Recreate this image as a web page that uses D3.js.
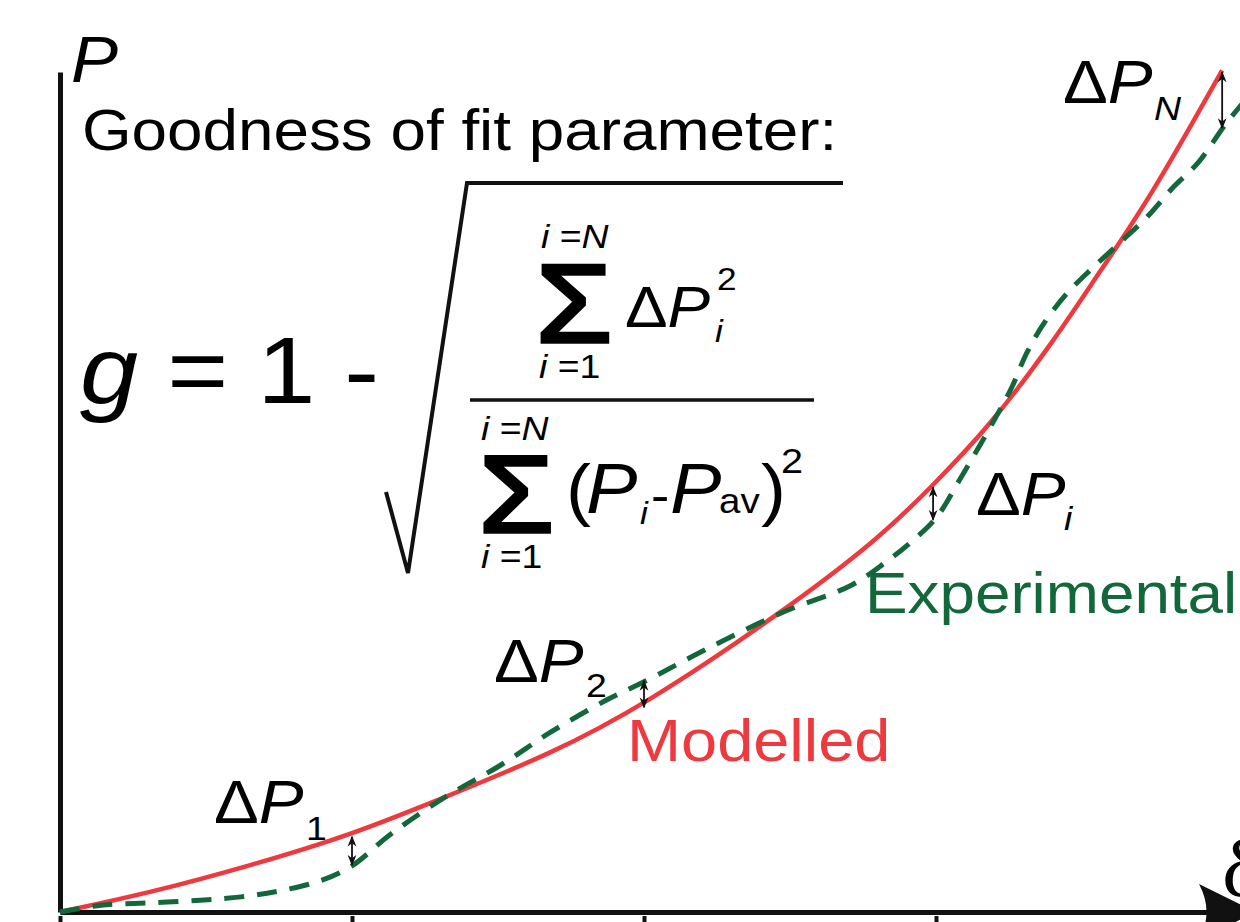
<!DOCTYPE html>
<html>
<head>
<meta charset="utf-8">
<script src="https://cdn.jsdelivr.net/npm/d3@7"></script>
<style>
  body { margin: 0; background: #fff; }
  text { font-family: "Liberation Sans", Arial, sans-serif; fill: #000; }
</style>
</head>
<body>
<div id="chart"></div>
<script>
// x: displacement (delta), y: load P
var deltaTicks = [0, 1, 2, 3];

var modelledDelta = [0, 0.31, 0.65, 1.00, 1.32, 1.68, 2.00, 2.47, 2.80, 2.99, 3.18, 3.39, 3.56, 3.73, 3.98];
var modelledP     = [0, 0.23, 0.55, 0.92, 1.37, 1.88, 2.46, 3.56, 4.43, 5.08, 5.77, 6.73, 7.62, 8.48, 10.02];

var experimentalDelta = [0, 0.14, 0.31, 0.48, 0.62, 0.75, 0.89, 1.00, 1.13, 1.32, 1.51, 1.68, 1.87, 2.00, 2.22, 2.47, 2.71, 2.83, 2.91, 3.00, 3.08, 3.20, 3.26, 3.31, 3.37, 3.45, 3.54, 3.64, 3.73, 3.81, 3.90, 3.99, 4.06];
var experimentalP     = [0, 0.08, 0.11, 0.14, 0.18, 0.25, 0.37, 0.55, 0.92, 1.37, 1.75, 2.14, 2.52, 2.74, 3.14, 3.56, 3.89, 4.17, 4.39, 4.69, 5.14, 5.86, 6.25, 6.65, 7.01, 7.37, 7.68, 8.00, 8.30, 8.62, 8.93, 9.37, 9.67];

// where the deviations are marked
var gapDelta = [1, 2, 2.99, 3.98];
var gapNames = ["1", "2", "i", "N"];

function init() {
    var w = 1240;
    var h = 922;

    var svg = d3.select("#chart")
        .append("svg")
        .attr("width", w)
        .attr("height", h);

    var x = d3.scaleLinear().domain([0, 4]).range([60, 1228]);
    var y = d3.scaleLinear().domain([0, 10]).range([912, 72]);

    var red = "#ee393e";
    var green = "#12683a";

    // arrow heads for the small deviation arrows
    svg.append("defs").append("marker")
        .attr("id", "head")
        .attr("viewBox", "0 0 10 10")
        .attr("refX", 9)
        .attr("refY", 5)
        .attr("markerWidth", 11)
        .attr("markerHeight", 11)
        .attr("markerUnits", "userSpaceOnUse")
        .attr("orient", "auto-start-reverse")
        .append("path")
        .attr("d", "M0,1 L10,5 L0,9 L3,5 Z")
        .attr("fill", "#111");

    // axes
    var xAxis = svg.append("g")
        .attr("transform", "translate(0,912)")
        .call(d3.axisBottom(x).tickValues(deltaTicks).tickSize(16).tickSizeOuter(0).tickFormat(""));
    xAxis.select(".domain").attr("stroke", "#111").attr("stroke-width", 5);
    xAxis.selectAll(".tick line").attr("stroke", "#111").attr("stroke-width", 4).attr("y1", 4);

    // extend x axis into an arrow
    svg.append("line")
        .attr("x1", x(4) - 2).attr("x2", 1212)
        .attr("y1", 912).attr("y2", 912)
        .attr("stroke", "#111").attr("stroke-width", 5);
    svg.append("path")
        .attr("d", "M1199,884 L1256,912 L1199,940 Q1214,912 1199,884 Z")
        .attr("fill", "#111");

    var yAxis = svg.append("g")
        .attr("transform", "translate(60,0)")
        .call(d3.axisLeft(y).tickValues([]).tickSizeOuter(0));
    yAxis.select(".domain").attr("stroke", "#111").attr("stroke-width", 5);

    // curves
    var smooth = d3.line()
        .x(function (d) { return x(d[0]); })
        .y(function (d) { return y(d[1]); })
        .curve(d3.curveBasis);
    var wiggly = d3.line()
        .x(function (d) { return x(d[0]); })
        .y(function (d) { return y(d[1]); })
        .curve(d3.curveCatmullRom);

    var modelled = d3.zip(modelledDelta, modelledP);
    var experimental = d3.zip(experimentalDelta, experimentalP);

    svg.append("path")
        .attr("d", smooth(modelled))
        .attr("fill", "none")
        .attr("stroke", red)
        .attr("stroke-width", 4.5);

    svg.append("path")
        .attr("d", wiggly(experimental))
        .attr("fill", "none")
        .attr("stroke", green)
        .attr("stroke-width", 5)
        .attr("stroke-dasharray", "20,13");

    // linear lookup of a series at a given delta
    function valueAt(xs, ys, d) {
        var i = d3.bisectLeft(xs, d);
        if (i <= 0) return ys[0];
        if (i >= xs.length) return ys[ys.length - 1];
        var t = (d - xs[i - 1]) / (xs[i] - xs[i - 1]);
        return ys[i - 1] + t * (ys[i] - ys[i - 1]);
    }

    svg.selectAll(".gap")
        .data(gapDelta)
        .enter()
        .append("line")
        .attr("class", "gap")
        .attr("x1", function (d) { return x(d); })
        .attr("x2", function (d) { return x(d); })
        .attr("y1", function (d) { return y(valueAt(modelledDelta, modelledP, d)) + 2; })
        .attr("y2", function (d) { return y(valueAt(experimentalDelta, experimentalP, d)) - 1; })
        .attr("stroke", "#111")
        .attr("stroke-width", 1.8)
        .attr("marker-start", "url(#head)")
        .attr("marker-end", "url(#head)");

    // text helper, slightly wide like the original artwork
    function label(txt, tx, ty, size, opts) {
        opts = opts || {};
        var t = svg.append("text")
            .attr("transform", "translate(" + tx + "," + ty + ") scale(1.1,1)")
            .style("font-size", size + "px")
            .text(txt);
        if (opts.italic) t.style("font-style", "italic");
        if (opts.fill) t.style("fill", opts.fill);
        if (opts.family) t.style("font-family", opts.family);
        return t;
    }
    function sigma(tx, ty, size) {
        return label("Σ", tx, ty, size)
            .style("stroke", "#000")
            .style("stroke-width", 3.5)
            .style("stroke-linejoin", "miter");
    }
    function limits(top, tx, ty) {
        var t = label("", tx, ty, 34);
        t.append("tspan").style("font-style", "italic").text("i");
        t.append("tspan").text(" =");
        t.append("tspan").style("font-style", top ? "italic" : "normal").text(top ? "N" : "1");
    }
    function deltaP(tx, ty, size) {
        var t = label("", tx, ty, size);
        t.append("tspan").text("Δ");
        t.append("tspan").style("font-style", "italic").text("P");
        return t;
    }

    // axis labels
    label("P", 71, 82, 64, { italic: true });
    label("δ", 1222, 896, 80, { family: "'Liberation Serif', serif" });

    // formula
    label("Goodness of fit parameter:", 82, 150, 58);
    var gEq = label("", 80, 403, 95);
    gEq.append("tspan").style("font-style", "italic").text("g");
    gEq.append("tspan").text(" = 1 -");

    // radical sign and fraction bar
    svg.append("path")
        .attr("d", "M386,492 L408,573 L467,183 L843,183")
        .attr("fill", "none")
        .attr("stroke", "#111")
        .attr("stroke-width", 4)
        .attr("stroke-linejoin", "miter");
    svg.append("line")
        .attr("x1", 470).attr("x2", 814)
        .attr("y1", 400).attr("y2", 400)
        .attr("stroke", "#111").attr("stroke-width", 3.5);

    // numerator
    limits(true, 541, 248);
    sigma(536, 342, 112);
    limits(false, 539, 378);
    deltaP(625, 327, 58);
    label("2", 717, 290, 32);
    label("i", 715, 342, 32, { italic: true });

    // denominator
    limits(true, 481, 440);
    sigma(479, 532, 110);
    limits(false, 481, 568);
    label("(", 566, 513, 68);
    label("P", 586, 513, 70, { italic: true });
    label("i", 640, 524, 32, { italic: true });
    label("-", 651, 512, 50);
    label("P", 670, 513, 70, { italic: true });
    label("av", 719, 513, 35);
    label(")", 761, 513, 68);
    label("2", 781, 473, 36);

    // deviation labels
    var labelPos = [
        { lx: 214, ly: 823, sx: 306, sy: 840 },
        { lx: 494, ly: 682, sx: 586, sy: 697 },
        { lx: 976, ly: 515, sx: 1064, sy: 530 },
        { lx: 1063, ly: 103, sx: 1154, sy: 120 }
    ];
    gapNames.forEach(function (n, i) {
        var p = labelPos[i];
        deltaP(p.lx, p.ly, 61);
        label(n, p.sx, p.sy, 34, { italic: isNaN(+n) });
    });

    // series names
    label("Experimental", 865, 613, 58, { fill: green });
    label("Modelled", 627, 761, 59, { fill: red });
}

window.onload = init;
</script>
</body>
</html>
